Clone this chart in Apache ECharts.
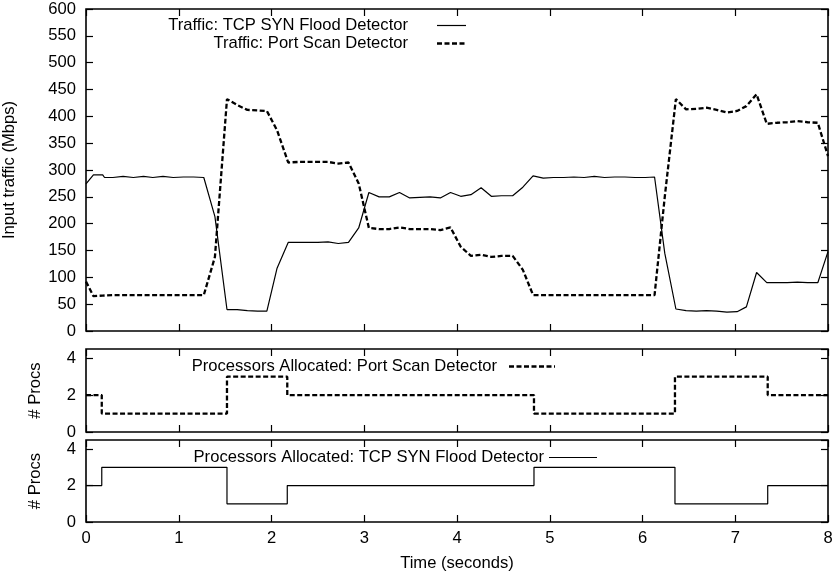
<!DOCTYPE html>
<html>
<head>
<meta charset="utf-8">
<script src="https://cdn.jsdelivr.net/npm/echarts@6/dist/echarts.min.js"></script>
<style>
html,body{margin:0;padding:0;background:#fff;}
#chart{width:835px;height:576px;}
</style>
</head>
<body>
<div id="chart"></div>
<script>
// ---- data ----
const times = [0.00,0.08,0.18,0.20,0.29,0.40,0.51,0.62,0.72,0.83,0.94,1.05,1.16,1.27,1.39,1.52,1.63,1.74,1.85,1.95,2.06,2.18,2.29,2.40,2.50,2.61,2.72,2.83,2.94,3.05,3.16,3.27,3.38,3.49,3.60,3.71,3.82,3.93,4.04,4.15,4.26,4.37,4.48,4.60,4.71,4.82,4.93,5.04,5.15,5.26,5.37,5.48,5.59,5.70,5.81,5.92,6.03,6.13,6.24,6.36,6.47,6.58,6.69,6.80,6.91,7.02,7.12,7.23,7.34,7.45,7.56,7.67,7.78,7.89,8.00];
const tcpTraffic = [274,291,291,286,286,288,286,288,286,288,286,287,287,286,213,40,40,38,37,37,117,165,165,165,165,166,163,165,192,258,250,250,258,248,249,250,248,258,251,254,267,251,252,252,268,289,285,286,286,287,286,288,286,287,287,286,286,287,145,41,38,37,38,37,35,36,45,109,90,90,90,91,90,90,148];
const portTraffic = [92,65,66,66,67,67,67,67,67,67,67,67,67,67,138,432,421,412,411,410,374,314,315,315,315,315,312,314,275,192,190,190,193,190,190,190,188,193,157,140,142,138,140,140,114,67,67,67,67,67,67,67,67,67,67,67,67,67,250,432,413,414,416,412,407,410,419,441,386,388,389,391,389,388,326];
const procTimes = [0, 0.17, 1.52, 2.17, 4.83, 6.35, 7.35, 8];
const portProcs = [2, 1, 3, 2, 1, 3, 2, 2];
const tcpProcs  = [2, 3, 1, 2, 3, 1, 2, 2];
const xTicks = [0,1,2,3,4,5,6,7,8];
const labels = {
  tcpTraffic: 'Traffic: TCP SYN Flood Detector',
  portTraffic: 'Traffic: Port Scan Detector',
  portProcs: 'Processors Allocated: Port Scan Detector',
  tcpProcs: 'Processors Allocated: TCP SYN Flood Detector',
  xName: 'Time (seconds)',
  yTraffic: 'Input traffic (Mbps)',
  yProcs: '# Procs'
};

// ---- build ----
const FONT = 'Liberation Sans, Arial, Helvetica, sans-serif';
const FS = 16.6;
const zip = (a, b) => a.map((v, i) => [v, b[i]]);

const grids = [
  {left: 86, right: 7, top: 9, height: 322},
  {left: 86, right: 7, top: 349, height: 83},
  {left: 86, right: 7, top: 440, height: 82}
].map(g => Object.assign(g, {show: true, borderColor: '#000', borderWidth: 1.6, backgroundColor: 'transparent',
  containLabel: false, outerBoundsMode: 'none'}));

function tickStyle() { return {show: true, inside: true, length: 7, lineStyle: {color: '#000', width: 1.2}}; }

function xAx(gi, pos, showLabels) {
  return {
    type: 'value', gridIndex: gi, position: pos, min: xTicks[0], max: xTicks[xTicks.length-1], interval: 1,
    axisLine: {show: false, onZero: false}, splitLine: {show: false}, axisTick: tickStyle(),
    axisLabel: {show: showLabels, color: '#000', fontSize: FS, fontFamily: FONT, margin: 8},
    name: showLabels ? labels.xName : '', nameLocation: 'middle', nameGap: 33,
    nameTextStyle: {color: '#000', fontSize: FS, fontFamily: FONT}
  };
}
function yAx(gi, pos, max, interval, showLabels, name, gap) {
  return {
    type: 'value', gridIndex: gi, position: pos, min: 0, max: max, interval: interval,
    axisLine: {show: false, onZero: false}, splitLine: {show: false}, axisTick: tickStyle(),
    axisLabel: {show: showLabels, color: '#000', fontSize: FS, fontFamily: FONT, margin: 10, showMaxLabel: max === 600},
    name: name || '', nameLocation: 'middle', nameGap: gap || 0,
    nameTextStyle: {color: '#000', fontSize: FS, fontFamily: FONT}
  };
}

const xAxis = [
  xAx(0, 'bottom', false), xAx(0, 'top', false),
  xAx(1, 'bottom', false), xAx(1, 'top', false),
  xAx(2, 'bottom', true),  xAx(2, 'top', false)
];
const yAxis = [
  yAx(0, 'left', 600, 50, true, labels.yTraffic, 68), yAx(0, 'right', 600, 50, false),
  yAx(1, 'left', 4.5, 2, true, labels.yProcs, 42), yAx(1, 'right', 4.5, 2, false),
  yAx(2, 'left', 4.5, 2, true, labels.yProcs, 42), yAx(2, 'right', 4.5, 2, false)
];

const DASH = [5, 2.5];
const series = [
  {name: labels.tcpTraffic, type: 'line', xAxisIndex: 0, yAxisIndex: 0, data: zip(times, tcpTraffic),
   symbol: 'none', lineStyle: {color: '#000', width: 1.2}},
  {name: labels.portTraffic, type: 'line', xAxisIndex: 0, yAxisIndex: 0, data: zip(times, portTraffic),
   symbol: 'none', lineStyle: {color: '#000', width: 2.3, type: DASH}},
  {name: labels.portProcs, type: 'line', step: 'end', xAxisIndex: 2, yAxisIndex: 2, data: zip(procTimes, portProcs),
   symbol: 'none', lineStyle: {color: '#000', width: 2.3, type: DASH}},
  {name: labels.tcpProcs, type: 'line', step: 'end', xAxisIndex: 4, yAxisIndex: 4, data: zip(procTimes, tcpProcs),
   symbol: 'none', lineStyle: {color: '#000', width: 1.2}}
];

function keyItem(text, tx, ty, lx1, lx2, dashed) {
  return [
    {type: 'text', x: tx, y: ty, style: {text: text, fill: '#000', font: FS + 'px ' + FONT, textAlign: 'right', textVerticalAlign: 'middle'}},
    {type: 'line', shape: {x1: lx1, y1: ty + 0.5, x2: lx2, y2: ty + 0.5},
     style: dashed ? {stroke: '#000', lineWidth: 2.3, lineDash: DASH} : {stroke: '#000', lineWidth: 1.2}}
  ];
}
const graphic = [].concat(
  keyItem(labels.tcpTraffic, 408, 25, 437, 466, false),
  keyItem(labels.portTraffic, 408, 43, 437, 466, true),
  keyItem(labels.portProcs, 497, 366, 509, 555, true),
  keyItem(labels.tcpProcs, 544, 457, 549, 597, false)
);

const chart = echarts.init(document.getElementById('chart'), null, {renderer: 'canvas'});
chart.setOption({
  animation: false,
  backgroundColor: '#fff',
  grid: grids, xAxis: xAxis, yAxis: yAxis, series: series, graphic: graphic
});
</script>
</body>
</html>
